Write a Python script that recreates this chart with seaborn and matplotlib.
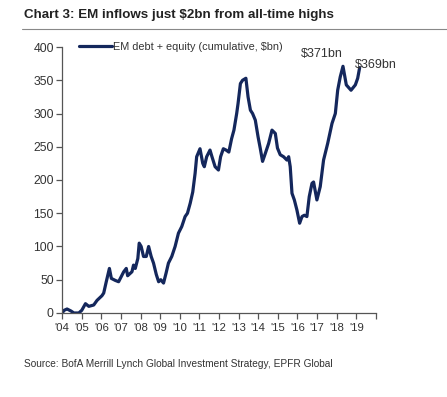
import numpy as np
import pandas as pd
import seaborn as sns
import matplotlib.pyplot as plt

# cumulative EM debt + equity flows, $bn
years = [
    2004.0, 2004.1, 2004.25, 2004.45, 2004.6, 2004.85, 2005.0, 2005.19, 2005.36, 2005.61,
    2005.78, 2006.03, 2006.12, 2006.25, 2006.41, 2006.51, 2006.71, 2006.88, 2007.14, 2007.27,
    2007.34, 2007.56, 2007.64, 2007.73, 2007.86, 2007.93, 2008.03, 2008.15, 2008.29, 2008.41,
    2008.54, 2008.66, 2008.8, 2008.92, 2009.03, 2009.17, 2009.3, 2009.42, 2009.59, 2009.76,
    2009.93, 2010.1, 2010.27, 2010.39, 2010.53, 2010.66, 2010.78, 2010.86, 2011.03, 2011.17,
    2011.25, 2011.37, 2011.54, 2011.64, 2011.8, 2011.97, 2012.08, 2012.22, 2012.36, 2012.5,
    2012.64, 2012.76, 2012.9, 2012.97, 2013.09, 2013.2, 2013.37, 2013.48, 2013.6, 2013.71,
    2013.85, 2013.99, 2014.1, 2014.22, 2014.36, 2014.53, 2014.7, 2014.87, 2014.98, 2015.12,
    2015.29, 2015.46, 2015.55, 2015.63, 2015.72, 2015.84, 2015.97, 2016.11, 2016.23, 2016.35,
    2016.48, 2016.6, 2016.74, 2016.82, 2016.99, 2017.16, 2017.33, 2017.54, 2017.76, 2017.93,
    2018.05, 2018.18, 2018.32, 2018.49, 2018.73, 2018.95, 2019.07, 2019.17,
]
flows = [
    0, 4, 6, 3, 0, 0, 4, 14, 10, 12,
    19, 26, 30, 47, 67, 52, 49, 47, 62, 67,
    56, 62, 72, 67, 82, 105, 100, 85, 85, 100,
    85, 75, 58, 47, 50, 45, 60, 75, 85, 100,
    120, 130, 145, 150, 165, 182, 210, 235, 247, 225,
    220, 235, 245, 235, 220, 215, 235, 247, 245, 242,
    262, 275, 300, 315, 345, 350, 353, 325, 305, 300,
    290, 265, 248, 228, 240, 255, 275, 270, 248, 238,
    235, 230, 235, 220, 180, 170, 155, 135, 145, 147,
    145, 175, 195, 197, 170, 190, 230, 255, 285, 300,
    335, 355, 371, 343, 335, 343, 353, 369,
]
tick_years = list(range(2004, 2020))
tick_labels = ["'%02d" % (y % 100) for y in tick_years]

df = pd.DataFrame({'year': years, 'flows': flows})

sns.set_theme(style='white')
plt.rcParams['font.family'] = ['Liberation Sans', 'DejaVu Sans']

fig = plt.figure(figsize=(4.47, 3.97), dpi=100)
ax = fig.add_axes([0.139, 0.2116, 0.702, 0.670])

navy = '#14275c'
sns.lineplot(data=df, x='year', y='flows', ax=ax, color=navy, linewidth=2.3,
             label='EM debt + equity (cumulative, $bn)')

ax.set_xlim(2004, 2020)
ax.set_ylim(0, 400)
ax.set_yticks(range(0, 401, 50))
ax.set_xticks(tick_years + [2020])
ax.set_xticklabels(tick_labels + [''])
ax.set_xlabel('')
ax.set_ylabel('')

for s in ['top', 'right']:
    ax.spines[s].set_visible(False)
for s in ['left', 'bottom']:
    ax.spines[s].set_color('#555555')
    ax.spines[s].set_linewidth(0.9)
ax.tick_params(axis='both', which='major', direction='out', length=4, width=0.9,
               color='#555555', labelcolor='#333333', pad=2, left=True, bottom=True)
ax.tick_params(axis='y', labelsize=8.8)
ax.tick_params(axis='x', labelsize=8.2, pad=3)

leg = ax.legend(loc='upper left', bbox_to_anchor=(0.04, 1.035), frameon=False,
                fontsize=7.8, handlelength=3.0, handletextpad=0.1, borderaxespad=0)
for t in leg.get_texts():
    t.set_color('#333333')

ax.text(2018.3, 381, '$371bn', ha='right', va='bottom', fontsize=9, color='#333333')
ax.text(2018.95, 373, '$369bn', ha='left', va='center', fontsize=9, color='#333333')

fig.text(0.054, 0.962, 'Chart 3: EM inflows just $2bn from all-time highs',
         fontsize=9.6, fontweight='bold', color='#222222', va='center')
fig.add_artist(plt.Line2D([0.05, 1.0], [0.927, 0.927], color='#888888', linewidth=0.8))
fig.text(0.054, 0.083, 'Source: BofA Merrill Lynch Global Investment Strategy, EPFR Global',
         fontsize=7.3, color='#333333', va='center')

fig.savefig('out.png', dpi=100)
